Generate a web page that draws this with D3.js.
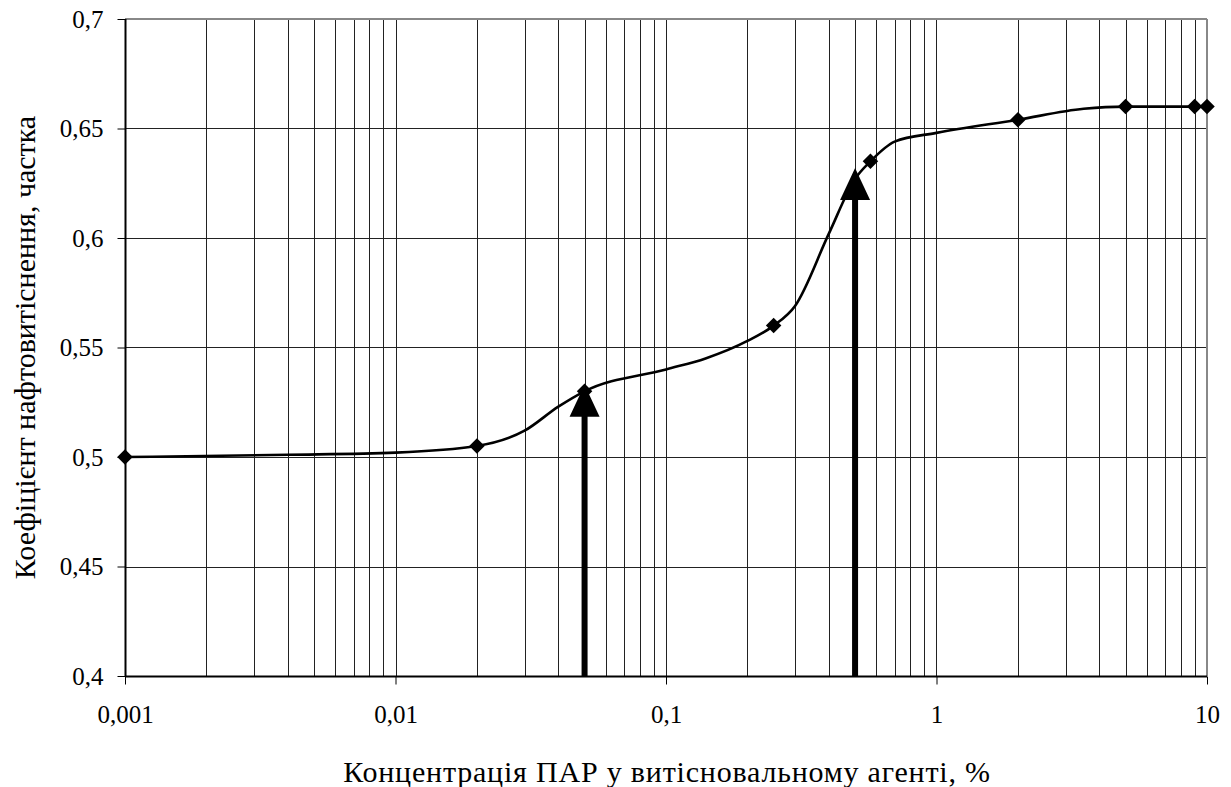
<!DOCTYPE html>
<html>
<head>
<meta charset="utf-8">
<script src="https://cdn.jsdelivr.net/npm/d3@7"></script>
<style>
  body { margin: 0; background: #fff; }
  svg { display: block; }
</style>
</head>
<body>
<svg id="chart" width="1231" height="787"></svg>
<script>
// measured points (markers)
const markerX = [0.001, 0.02, 0.05, 0.25, 0.57, 2, 5, 9, 10];
const markerY = [0.5, 0.505, 0.53, 0.56, 0.635, 0.654, 0.66, 0.66, 0.66];

// smoothed curve
const curveX = [0.001, 0.004, 0.01, 0.02, 0.03, 0.04, 0.05, 0.1, 0.14, 0.2, 0.25, 0.3, 0.4, 0.5, 0.57, 0.7, 1, 2, 3.5, 5, 9, 10];
const curveY = [0.5, 0.501, 0.502, 0.505, 0.512, 0.523, 0.53, 0.54, 0.545, 0.553, 0.56, 0.569, 0.602, 0.627, 0.635, 0.644, 0.648, 0.654, 0.659, 0.66, 0.66, 0.66];

// arrows (concentration, tip value)
const arrowX = [0.05, 0.5];
const arrowY = [0.533, 0.632];

const xTicks = [0.001, 0.01, 0.1, 1, 10];
const xTickLabels = ["0,001", "0,01", "0,1", "1", "10"];
const yTicks = [0.4, 0.45, 0.5, 0.55, 0.6, 0.65, 0.7];
const yTickLabels = ["0,4", "0,45", "0,5", "0,55", "0,6", "0,65", "0,7"];

const xTitle = "Концентрація ПАР у витісновальному агенті, %";
const yTitle = "Коефіцієнт нафтовитіснення, частка";

const m = { left: 125, right: 1207, top: 19, bottom: 676 };
const serif = '"Liberation Serif", "Times New Roman", "DejaVu Serif", serif';

const svg = d3.select("#chart");
const x = d3.scaleLog().domain([0.001, 10]).range([m.left, m.right]);
const y = d3.scaleLinear().domain([0.4, 0.7]).range([m.bottom, m.top]);

// minor log grid
const minor = [];
for (let d = 0.001; d < 10; d *= 10) {
  for (let k = 1; k <= 10; k++) {
    const v = +(d * k).toPrecision(3);
    if (v > 0.001) minor.push(v);
  }
}
const grid = svg.append("g");
grid.selectAll("line.v")
  .data(minor.filter(v => v < 10))
  .enter().append("line")
  .attr("class", "v")
  .attr("x1", d => Math.round(x(d)) + 0.5)
  .attr("x2", d => Math.round(x(d)) + 0.5)
  .attr("y1", m.top)
  .attr("y2", m.bottom)
  .attr("stroke", "#222")
  .attr("stroke-width", 1);

grid.selectAll("line.h")
  .data(yTicks.filter(v => v > 0.4 && v < 0.7))
  .enter().append("line")
  .attr("class", "h")
  .attr("x1", m.left)
  .attr("x2", m.right)
  .attr("y1", d => Math.round(y(d)) + 0.5)
  .attr("y2", d => Math.round(y(d)) + 0.5)
  .attr("stroke", "#222")
  .attr("stroke-width", 1);

// top + right border (grey)
svg.append("line")
  .attr("x1", m.left).attr("x2", m.right)
  .attr("y1", m.top).attr("y2", m.top)
  .attr("stroke", "#888").attr("stroke-width", 2);
svg.append("line")
  .attr("x1", m.right).attr("x2", m.right)
  .attr("y1", m.top).attr("y2", m.bottom)
  .attr("stroke", "#888").attr("stroke-width", 2);

// axes
const xAxis = d3.axisBottom(x)
  .tickValues(xTicks)
  .tickFormat((d, i) => xTickLabels[i])
  .tickSize(8)
  .tickPadding(21);
const gx = svg.append("g")
  .attr("transform", `translate(0,${m.bottom + 0.5})`)
  .call(xAxis);
gx.select(".domain").attr("stroke", "#000").attr("stroke-width", 2).attr("d", `M${m.left},0H${m.right}`);
gx.selectAll(".tick line").attr("stroke", "#000");
gx.selectAll(".tick text")
  .style("font-family", serif)
  .style("font-size", "25px")
  .attr("fill", "#000");

const yAxis = d3.axisLeft(y)
  .tickValues(yTicks)
  .tickFormat((d, i) => yTickLabels[i])
  .tickSize(8)
  .tickPadding(14);
const gy = svg.append("g")
  .attr("transform", `translate(${m.left + 0.5},0)`)
  .call(yAxis);
gy.select(".domain").attr("stroke", "#000").attr("stroke-width", 2).attr("d", `M0,${m.top}V${m.bottom}`);
gy.selectAll(".tick line").attr("stroke", "#000");
gy.selectAll(".tick text")
  .style("font-family", serif)
  .style("font-size", "25px")
  .attr("fill", "#000");

// curve
const curvePts = curveX.map((v, i) => [v, curveY[i]]);
const line = d3.line()
  .x(d => x(d[0]))
  .y(d => y(d[1]))
  .curve(d3.curveMonotoneX);
svg.append("path")
  .datum(curvePts)
  .attr("d", line)
  .attr("fill", "none")
  .attr("stroke", "#000")
  .attr("stroke-width", 2.6);

// markers
const markerPts = markerX.map((v, i) => [v, markerY[i]]);
svg.selectAll("path.marker")
  .data(markerPts)
  .enter().append("path")
  .attr("class", "marker")
  .attr("d", d3.symbol(d3.symbolSquare, 120))
  .attr("transform", d => `translate(${x(d[0])},${y(d[1])}) rotate(45)`)
  .attr("fill", "#000");

// arrows
const arrows = arrowX.map((v, i) => [v, arrowY[i]]);
const headW = 30, headH = 32, shaftW = 6;
const ag = svg.append("g");
ag.selectAll("rect")
  .data(arrows)
  .enter().append("rect")
  .attr("x", d => x(d[0]) - shaftW / 2)
  .attr("y", d => y(d[1]) + headH - 1)
  .attr("width", shaftW)
  .attr("height", d => m.bottom - y(d[1]) - headH + 1)
  .attr("fill", "#000");
ag.selectAll("path")
  .data(arrows)
  .enter().append("path")
  .attr("d", d => {
    const cx = x(d[0]), ty = y(d[1]);
    return `M${cx},${ty}L${cx + headW / 2},${ty + headH}L${cx - headW / 2},${ty + headH}Z`;
  })
  .attr("fill", "#000");

// titles
svg.append("text")
  .attr("x", 667)
  .attr("y", 782)
  .attr("text-anchor", "middle")
  .style("font-family", serif)
  .style("font-size", "30px")
  .style("letter-spacing", "0.8px")
  .text(xTitle);

svg.append("text")
  .attr("transform", `translate(35,${(m.top + m.bottom) / 2}) rotate(-90)`)
  .attr("text-anchor", "middle")
  .style("font-family", serif)
  .style("font-size", "30px")
  .text(yTitle);
</script>
</body>
</html>
